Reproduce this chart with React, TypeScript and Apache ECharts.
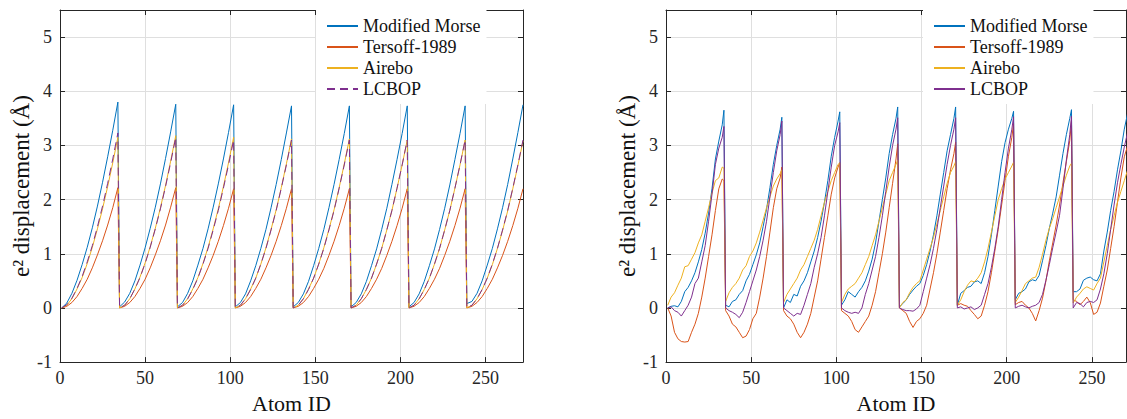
import React, { useEffect, useRef } from "react";
import * as echarts from "echarts";

// ---------- data ----------
const PERIOD = 34;
const N_PERIODS = 8;
const SERIES_NAMES = ["Modified Morse", "Tersoff-1989", "Airebo", "LCBOP"];
const COLORS = ["#0072BD", "#D95319", "#EDB120", "#7E2F8E"];
const X_TICKS_STEP = 50;
const Y_MIN = -1;
const Y_MAX = 5.5;

// sample positions inside each 34-atom period
const LEFT_STEPS = [1, 4, 7, 10, 13, 16, 19, 22, 25, 28, 31, 34];
const RIGHT_STEPS = [1, 3, 5, 7, 9, 11, 13, 15, 17, 19, 21, 23, 25, 27, 29, 31, 33, 34];

// left panel (ideal) values, 12 per period
const leftMorse = [
  0, 0.09, 0.27, 0.51, 0.8, 1.12, 1.48, 1.88, 2.32, 2.79, 3.28, 3.8,
  0.02, 0.11, 0.27, 0.5, 0.79, 1.11, 1.47, 1.86, 2.29, 2.76, 3.25, 3.76,
  0.02, 0.1, 0.27, 0.5, 0.79, 1.1, 1.46, 1.86, 2.29, 2.75, 3.24, 3.75,
  0.02, 0.1, 0.26, 0.5, 0.78, 1.1, 1.45, 1.85, 2.28, 2.74, 3.23, 3.73,
  0.02, 0.1, 0.26, 0.49, 0.78, 1.1, 1.45, 1.85, 2.28, 2.74, 3.22, 3.73,
  0.02, 0.1, 0.26, 0.49, 0.78, 1.09, 1.45, 1.84, 2.28, 2.74, 3.22, 3.73,
  0.02, 0.1, 0.26, 0.49, 0.78, 1.09, 1.45, 1.84, 2.27, 2.74, 3.22, 3.73,
  0.08, 0.12, 0.27, 0.5, 0.79, 1.1, 1.46, 1.85, 2.28, 2.75, 3.24, 3.75,
];
const leftTersoff = [
  0, 0.03, 0.1, 0.21, 0.36, 0.53, 0.74, 0.98, 1.24, 1.53, 1.85, 2.22,
  0, 0.03, 0.1, 0.21, 0.36, 0.53, 0.74, 0.98, 1.24, 1.53, 1.86, 2.22,
  0, 0.03, 0.1, 0.21, 0.36, 0.53, 0.74, 0.97, 1.23, 1.52, 1.84, 2.2,
  0, 0.03, 0.1, 0.21, 0.36, 0.53, 0.74, 0.97, 1.23, 1.52, 1.84, 2.2,
  0, 0.03, 0.1, 0.21, 0.36, 0.53, 0.73, 0.97, 1.23, 1.52, 1.84, 2.2,
  0, 0.03, 0.1, 0.21, 0.36, 0.53, 0.73, 0.97, 1.23, 1.52, 1.84, 2.2,
  0, 0.03, 0.1, 0.21, 0.36, 0.53, 0.73, 0.97, 1.23, 1.52, 1.84, 2.2,
  0, 0.03, 0.1, 0.21, 0.36, 0.53, 0.74, 0.97, 1.23, 1.52, 1.84, 2.2,
];
const leftAirebo = [
  0, 0.05, 0.17, 0.35, 0.56, 0.82, 1.12, 1.46, 1.83, 2.24, 2.68, 3.15,
  0, 0.05, 0.17, 0.35, 0.57, 0.83, 1.13, 1.47, 1.85, 2.26, 2.71, 3.18,
  0, 0.05, 0.17, 0.35, 0.56, 0.82, 1.12, 1.46, 1.83, 2.24, 2.68, 3.15,
  0, 0.05, 0.17, 0.35, 0.55, 0.81, 1.11, 1.45, 1.81, 2.22, 2.66, 3.12,
  0, 0.05, 0.17, 0.35, 0.55, 0.81, 1.11, 1.45, 1.81, 2.22, 2.66, 3.12,
  0, 0.05, 0.17, 0.34, 0.55, 0.81, 1.1, 1.44, 1.8, 2.21, 2.64, 3.1,
  0, 0.05, 0.17, 0.34, 0.55, 0.81, 1.1, 1.44, 1.8, 2.21, 2.64, 3.1,
  0, 0.05, 0.17, 0.34, 0.55, 0.8, 1.1, 1.43, 1.79, 2.2, 2.63, 3.08,
];
const leftLcbop = [
  0, 0.06, 0.18, 0.36, 0.58, 0.85, 1.15, 1.5, 1.88, 2.3, 2.75, 3.23,
  0, 0.05, 0.17, 0.35, 0.56, 0.82, 1.12, 1.46, 1.83, 2.24, 2.68, 3.15,
  0, 0.05, 0.17, 0.34, 0.55, 0.81, 1.1, 1.44, 1.8, 2.21, 2.64, 3.1,
  0, 0.05, 0.17, 0.34, 0.55, 0.81, 1.1, 1.44, 1.8, 2.21, 2.64, 3.1,
  0, 0.05, 0.17, 0.34, 0.55, 0.81, 1.1, 1.44, 1.8, 2.21, 2.64, 3.1,
  0, 0.05, 0.17, 0.34, 0.55, 0.81, 1.1, 1.44, 1.8, 2.21, 2.64, 3.1,
  0, 0.05, 0.17, 0.34, 0.55, 0.81, 1.1, 1.44, 1.8, 2.21, 2.64, 3.1,
  0, 0.05, 0.17, 0.34, 0.55, 0.81, 1.1, 1.44, 1.8, 2.21, 2.64, 3.1,
];

// right panel (simulated) values, 18 per period
const rightMorse = [
  0.0, 0.03, 0.04, 0.02, 0.12, 0.3, 0.38, 0.5, 0.65, 0.85, 1.08, 1.38, 1.75, 2.2, 2.75, 3.08, 3.38, 3.65,
  0.05, 0.02, 0.12, 0.15, 0.25, 0.32, 0.5, 0.62, 0.8, 0.98, 1.2, 1.5, 1.82, 2.22, 2.65, 3.0, 3.3, 3.52,
  0.0, 0.15, 0.1, 0.25, 0.22, 0.4, 0.5, 0.65, 0.85, 1.05, 1.3, 1.6, 1.95, 2.35, 2.8, 3.15, 3.45, 3.62,
  0.05, 0.15, 0.3, 0.25, 0.2, 0.3, 0.38, 0.5, 0.68, 0.9, 1.2, 1.6, 2.0, 2.4, 2.85, 3.2, 3.5, 3.71,
  0.02, 0.08, 0.15, 0.25, 0.33, 0.4, 0.45, 0.6, 0.8, 1.05, 1.35, 1.7, 2.1, 2.5, 2.9, 3.2, 3.5, 3.71,
  0.05, 0.27, 0.32, 0.38, 0.4, 0.48, 0.5, 0.45, 0.65, 0.95, 1.35, 1.8, 2.25, 2.7, 3.05, 3.3, 3.5, 3.63,
  0.15, 0.27, 0.3, 0.35, 0.48, 0.52, 0.5, 0.6, 0.87, 1.15, 1.47, 1.75, 2.05, 2.45, 2.85, 3.2, 3.5, 3.66,
  0.3, 0.3, 0.35, 0.51, 0.55, 0.57, 0.52, 0.5, 0.63, 1.05, 1.4, 1.8, 2.15, 2.55, 2.9, 3.3, 3.6, 3.7,
];
const rightTersoff = [
  0.0, -0.15, -0.45, -0.57, -0.62, -0.63, -0.62, -0.45, -0.3, -0.1, 0.2, 0.55, 0.95, 1.35, 1.8, 2.2, 2.38, 2.35,
  -0.05, -0.15, -0.3, -0.35, -0.45, -0.55, -0.52, -0.4, -0.2, -0.1, 0.2, 0.55, 0.95, 1.4, 1.85, 2.2, 2.4, 2.6,
  -0.05, -0.15, -0.2, -0.3, -0.45, -0.55, -0.45, -0.3, -0.1, 0.2, 0.5, 0.9, 1.3, 1.7, 2.1, 2.4, 2.6, 2.68,
  -0.05, -0.1, -0.15, -0.25, -0.4, -0.45, -0.35, -0.25, -0.15, 0.05, 0.3, 0.65, 1.0, 1.4, 1.85, 2.3, 2.75, 3.03,
  0.0, -0.05, -0.1, -0.25, -0.36, -0.25, -0.2, -0.1, 0.05, 0.35, 0.65, 1.0, 1.4, 1.8, 2.2, 2.55, 2.85, 3.06,
  0.05, 0.08, 0.05, 0.03, -0.05, -0.12, -0.2, -0.15, 0.05, 0.3, 0.65, 1.05, 1.45, 1.9, 2.35, 2.8, 3.15, 3.4,
  0.06, 0.1, 0.12, 0.05, 0.0, -0.1, -0.24, -0.05, 0.18, 0.5, 0.87, 1.2, 1.53, 1.9, 2.31, 2.7, 3.09, 3.45,
  0.15, 0.12, 0.06, 0.12, 0.2, 0.1, -0.12, -0.08, 0.09, 0.4, 0.7, 1.1, 1.5, 1.95, 2.4, 2.79, 3.0, 3.1,
];
const rightAirebo = [
  0.05, 0.2, 0.28, 0.42, 0.55, 0.76, 0.78, 0.9, 1.02, 1.2, 1.35, 1.6, 1.85, 2.12, 2.35, 2.4, 2.6, 2.58,
  0.12, 0.28, 0.38, 0.45, 0.55, 0.7, 0.78, 0.95, 1.05, 1.2, 1.4, 1.62, 1.85, 2.05, 2.25, 2.38, 2.48, 2.55,
  0.1, 0.25, 0.35, 0.45, 0.55, 0.7, 0.8, 0.95, 1.1, 1.25, 1.45, 1.7, 1.95, 2.15, 2.35, 2.5, 2.65, 2.68,
  0.1, 0.25, 0.35, 0.4, 0.45, 0.55, 0.65, 0.8, 0.95, 1.15, 1.35, 1.6, 1.85, 2.1, 2.35, 2.5, 2.65, 2.73,
  0.0, 0.1, 0.15, 0.28, 0.38, 0.45, 0.5, 0.7, 0.9, 1.1, 1.3, 1.55, 1.8, 2.05, 2.3, 2.5, 2.62, 2.7,
  0.05, 0.15, 0.3, 0.42, 0.5, 0.48, 0.55, 0.65, 0.85, 1.1, 1.4, 1.7, 2.0, 2.2, 2.38, 2.5, 2.62, 2.69,
  0.1, 0.2, 0.32, 0.45, 0.5, 0.55, 0.57, 0.75, 0.99, 1.25, 1.47, 1.65, 1.85, 2.05, 2.25, 2.45, 2.62, 2.67,
  0.09, 0.2, 0.27, 0.35, 0.39, 0.36, 0.33, 0.45, 0.55, 0.85, 1.15, 1.45, 1.7, 1.95, 2.15, 2.35, 2.55, 2.65,
];
const rightLcbop = [
  0.0, 0.02, -0.05, -0.08, -0.15, -0.05, 0.05, 0.2, 0.45, 0.55, 0.85, 1.15, 1.6, 2.1, 2.65, 2.95, 3.15, 3.35,
  0.0, -0.05, -0.08, -0.12, -0.18, -0.08, 0.1, 0.3, 0.5, 0.7, 0.95, 1.25, 1.6, 2.05, 2.5, 2.9, 3.2, 3.45,
  0.0, -0.05, -0.1, -0.15, -0.1, -0.12, 0.05, 0.25, 0.45, 0.75, 1.0, 1.3, 1.7, 2.15, 2.6, 3.0, 3.25, 3.42,
  0.0, -0.05, -0.08, -0.1, -0.08, -0.1, 0.0, 0.25, 0.45, 0.7, 0.95, 1.3, 1.7, 2.15, 2.6, 3.0, 3.3, 3.51,
  0.0, -0.03, -0.05, -0.05, -0.06, -0.02, 0.05, 0.3, 0.55, 0.8, 1.1, 1.45, 1.85, 2.25, 2.65, 3.0, 3.3, 3.51,
  0.0, 0.02, -0.02, 0.0, 0.02, -0.03, 0.0, 0.05, 0.25, 0.45, 0.75, 1.1, 1.5, 2.0, 2.5, 2.95, 3.3, 3.53,
  0.0, 0.03, 0.05, 0.02, 0.0, 0.03, 0.05, 0.1, 0.25, 0.51, 0.8, 1.11, 1.4, 1.71, 2.2, 2.73, 3.2, 3.54,
  0.0, 0.1, 0.08, 0.02, 0.1, 0.12, 0.1, 0.15, 0.35, 0.63, 1.0, 1.45, 1.9, 2.31, 2.65, 2.97, 3.25, 3.35,
];

const LEFT_X_MAX = 272;
const RIGHT_X_MAX = 270;

// ---------- helpers ----------
function atomIds(steps: number[]): number[] {
  const xs: number[] = [];
  for (let k = 0; k < N_PERIODS; k++) for (const t of steps) xs.push(k * PERIOD + t);
  return xs;
}
function pairs(xs: number[], ys: number[]): number[][] {
  return xs.map((x, i) => [x, ys[i]]);
}

const FONT = "Liberation Serif";
const AXIS_COLOR = "#262626";
const GRID_COLOR = "#dfdfdf";

function xAx(gridIndex: number, max: number, top: boolean) {
  return {
    type: "value",
    gridIndex,
    min: 0,
    max,
    interval: X_TICKS_STEP,
    position: top ? "top" : "bottom",
    axisLine: { show: true, onZero: false, lineStyle: { color: AXIS_COLOR, width: 1 } },
    axisTick: { show: true, inside: true, length: 5, lineStyle: { color: AXIS_COLOR } },
    axisLabel: {
      show: !top,
      showMaxLabel: false,
      color: AXIS_COLOR,
      fontFamily: FONT,
      fontSize: 18,
      margin: 7,
    },
    splitLine: { show: !top, lineStyle: { color: GRID_COLOR, width: 1 } },
    name: top ? "" : "Atom ID",
    nameLocation: "middle",
    nameGap: 29,
    nameTextStyle: { fontFamily: FONT, fontSize: 22, color: "#111" },
  };
}
function yAx(gridIndex: number, right: boolean) {
  return {
    type: "value",
    gridIndex,
    min: Y_MIN,
    max: Y_MAX,
    interval: 1,
    position: right ? "right" : "left",
    axisLine: { show: true, onZero: false, lineStyle: { color: AXIS_COLOR, width: 1 } },
    axisTick: { show: true, inside: true, length: 5, lineStyle: { color: AXIS_COLOR } },
    axisLabel: {
      show: !right,
      showMaxLabel: false,
      color: AXIS_COLOR,
      fontFamily: FONT,
      fontSize: 18,
      margin: 8,
    },
    splitLine: { show: !right, lineStyle: { color: GRID_COLOR, width: 1 } },
    name: right ? "" : "e\u00B2 displacement (\u00C5)",
    nameLocation: "middle",
    nameGap: 26,
    nameTextStyle: { fontFamily: FONT, fontSize: 23, color: "#111" },
  };
}

function lineSeries(name: string, color: string, data: number[][], axis: number, dashed: boolean) {
  return {
    type: "line",
    name,
    data,
    xAxisIndex: axis,
    yAxisIndex: axis,
    symbol: "none",
    showSymbol: false,
    silent: true,
    lineStyle: { color, width: 1, type: dashed ? [8, 5] : "solid" },
    itemStyle: { color },
    z: 3,
  };
}

function legendAt(left: number, solidLcbop: boolean) {
  return {
    orient: "vertical",
    left,
    top: 10,
    itemWidth: 31,
    itemHeight: 14,
    itemGap: 3,
    padding: [7, 6, 6, 10],
    backgroundColor: "#ffffff",
    selectedMode: false,
    itemStyle: { opacity: 0 },
    textStyle: { fontFamily: FONT, fontSize: 18, color: "#111" },
    data: SERIES_NAMES.map((n) =>
      n === "LCBOP" && solidLcbop ? { name: n, lineStyle: { type: "solid" } } : { name: n }
    ),
  };
}

export default function App() {
  const ref = useRef<HTMLDivElement>(null);
  useEffect(() => {
    if (!ref.current) return;
    document.body.style.margin = "0";
    const chart = echarts.init(ref.current, undefined, { renderer: "svg" });
    const lx = atomIds(LEFT_STEPS);
    const rx = atomIds(RIGHT_STEPS);
    const leftVals = [leftMorse, leftTersoff, leftAirebo, leftLcbop];
    const rightVals = [rightMorse, rightTersoff, rightAirebo, rightLcbop];
    const series: any[] = [];
    SERIES_NAMES.forEach((n, i) =>
      series.push(lineSeries(n, COLORS[i], pairs(lx, leftVals[i]), 0, n === "LCBOP"))
    );
    SERIES_NAMES.forEach((n, i) =>
      series.push(lineSeries(n, COLORS[i], pairs(rx, rightVals[i]), 1, false))
    );
    chart.setOption({
      animation: false,
      backgroundColor: "#ffffff",
      grid: [
        { left: 60, top: 10, width: 463, height: 360 },
        { left: 666, top: 10, width: 460, height: 360 },
      ],
      xAxis: [
        xAx(0, LEFT_X_MAX, false),
        xAx(1, RIGHT_X_MAX, false),
        xAx(0, LEFT_X_MAX, true),
        xAx(1, RIGHT_X_MAX, true),
      ],
      yAxis: [yAx(0, false), yAx(1, false), yAx(0, true), yAx(1, true)],
      legend: [legendAt(316, false), legendAt(923, true)],
      series,
    });
    return () => chart.dispose();
  }, []);
  return (
    <div
      ref={ref}
      style={{ position: "absolute", left: 0, top: 0, width: 1127, height: 419 }}
    />
  );
}
